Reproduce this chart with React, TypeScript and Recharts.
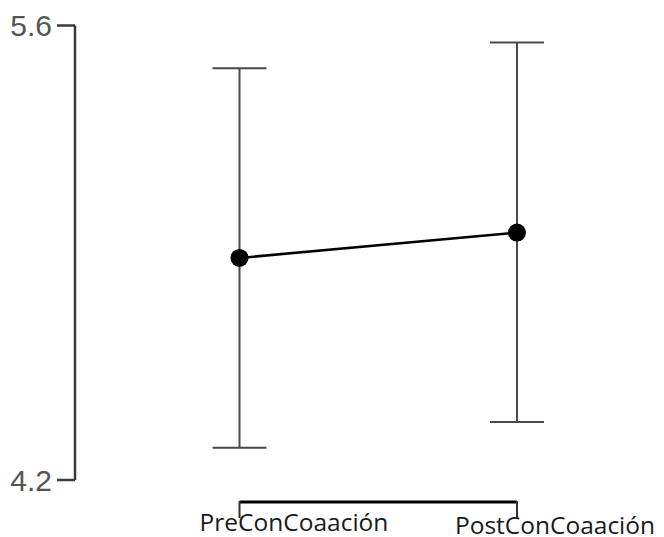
import React from "react";
import { ComposedChart, Line, XAxis, YAxis, ErrorBar } from "recharts";

const categories = ["PreConCoaación", "PostConCoaación"];
const means = [4.884, 4.962];
const errLow = [0.585, 0.583];
const errHigh = [0.584, 0.586];
const yTicks = [4.2, 5.6];

const data = categories.map((name, i) => ({
  name,
  mean: means[i],
  err: [errLow[i], errHigh[i]],
}));

const W = 656;
const H = 529;
const M = { top: 17.5, right: 40, bottom: 1, left: 0 };
const Y_W = 67;
const PAD_L = 164.5;
const PAD_R = 107;
const PLOT_LEFT = M.left + Y_W;
const PLOT_RIGHT = W - M.right;
const SPAN = PLOT_RIGHT - PAD_R - (PLOT_LEFT + PAD_L);

const LABEL_DX = [54.5, 38];
const LABEL_DY = [50.5, 54];

const XTick = (props: any) => {
  const { x, y, payload, index } = props;
  return (
    <g>
      {index === 0 && (
        <line x1={x} y1={y + 22} x2={x + SPAN} y2={y + 22} stroke="#000" strokeWidth={3} />
      )}
      <line x1={x} y1={y + 21} x2={x} y2={y + 38} stroke="#333" strokeWidth={2} />
      <text
        x={x + LABEL_DX[index]}
        y={y + LABEL_DY[index]}
        textAnchor="middle"
        fontFamily="'Open Sans', sans-serif"
        fontSize={24.5}
        fill="#1a1a1a"
      >
        {payload.value}
      </text>
    </g>
  );
};

export default function App() {
  return (
    <ComposedChart width={W} height={H} data={data} margin={M}>
      <XAxis
        dataKey="name"
        scale="point"
        padding={{ left: PAD_L, right: PAD_R }}
        axisLine={false}
        tickLine={false}
        tickSize={0}
        tickMargin={0}
        height={56}
        interval={0}
        tick={<XTick />}
      />
      <YAxis
        domain={[4.2, 5.6]}
        ticks={yTicks}
        width={Y_W}
        tickSize={18}
        tickMargin={5}
        axisLine={{ stroke: "#3a3a3a", strokeWidth: 2.5 }}
        tickLine={{ stroke: "#3a3a3a", strokeWidth: 2.5 }}
        tick={{ fontSize: 30, fill: "#555", fontFamily: "'Liberation Sans', Arial, sans-serif" }}
        tickFormatter={(v: number) => v.toFixed(1)}
      />
      <Line
        dataKey="mean"
        stroke="#000"
        strokeWidth={2.5}
        dot={{ r: 9, fill: "#000", stroke: "none" }}
        activeDot={false}
        isAnimationActive={false}
      >
        <ErrorBar dataKey="err" width={27} stroke="#4a4a4a" strokeWidth={2} isAnimationActive={false} />
      </Line>
    </ComposedChart>
  );
}
